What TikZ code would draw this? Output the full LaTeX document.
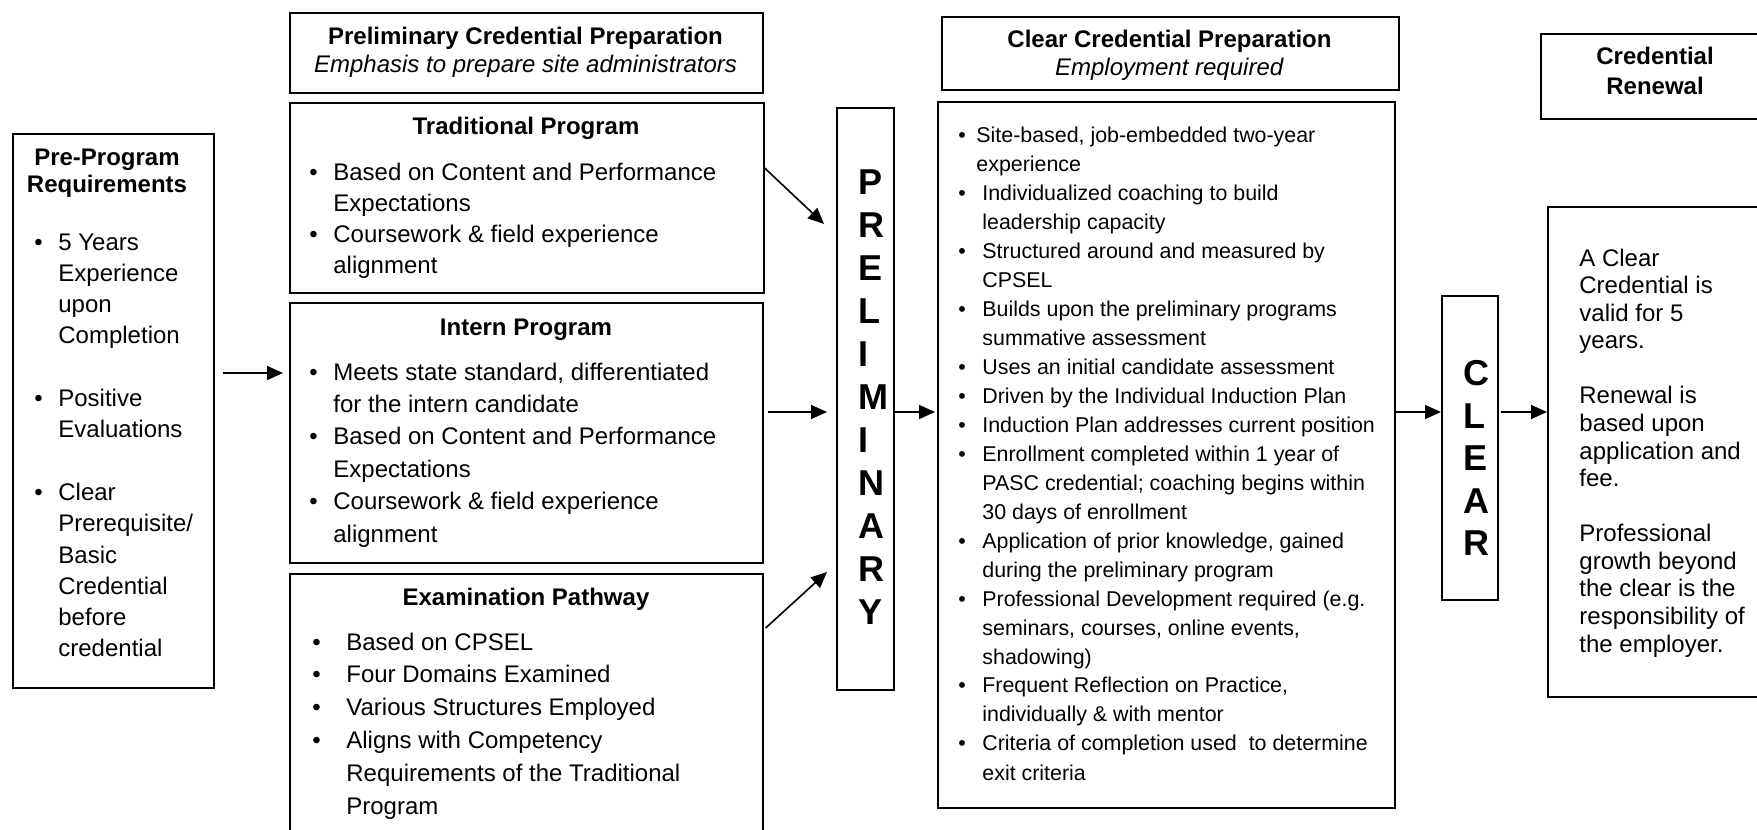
\documentclass[tikz,border=0pt]{standalone}
\usepackage{fontspec}
\setmainfont{Liberation Sans}
\usetikzlibrary{calc, positioning, arrows.meta}

\newcommand{\lst}[1]{\begin{tabular}[t]{@{}l@{}}#1\end{tabular}}
\newcommand{\ctr}[1]{\begin{tabular}[t]{@{}c@{}}#1\end{tabular}}
\newcommand{\bul}[1][12pt]{\makebox[#1][l]{\textbullet}}
\newcommand{\ind}[1][12pt]{\hspace*{#1}}

\tikzset{
	box/.style={draw, line width=0.8pt, inner sep=0pt, anchor=north west},
	body/.style={inner sep=0pt, anchor=base west},
	head/.style={inner sep=0pt, anchor=base, font=\fontsize{12}{14}\selectfont},
	letters/.style={inner sep=0pt, anchor=base west},
	arr/.style={-{Triangle[length=8pt,width=7pt]}, line width=0.8pt},
}

\begin{document}
\begin{tikzpicture}[x=0.5pt, y=-0.5pt]
	\useasboundingbox (0,0) rectangle (1757,830);
	\clip (0,0) rectangle (1757,830);
	
	% boxes
	\node[box, minimum width=100.5pt, minimum height=277pt] (pre) at (12,133) {};
	\node[box, minimum width=236.5pt, minimum height=40pt] (prelimhead) at (289,12) {};
	\node[box, minimum width=237pt, minimum height=95pt] (trad) at (289,102) {};
	\node[box, minimum width=236.5pt, minimum height=130pt] (intern) at (289,302) {};
	\node[box, minimum width=236.5pt, minimum height=140pt] (exam) at (289,573) {};
	\node[box, minimum width=28.5pt, minimum height=291pt] (prelim) at (836,107) {};
	\node[box, minimum width=228.5pt, minimum height=36.5pt] (clearhead) at (941,16) {};
	\node[box, minimum width=228.5pt, minimum height=353pt] (clear) at (937,101) {};
	\node[box, minimum width=28pt, minimum height=152pt] (clr) at (1441,295) {};
	\node[box, minimum width=115pt, minimum height=42.5pt] (renewhead) at (1540,33) {};
	\node[box, minimum width=115pt, minimum height=245pt] (renew) at (1547,206) {};
	
	% texts
	\node[head, font=\bfseries\fontsize{12}{13.5}\selectfont] (pretitle) at (107,165) {\ctr{Pre-Program\\ Requirements}};
	\node[body, font=\fontsize{12}{15.65}\selectfont] (prebody) at (34,250) {\lst{\bul 5 Years\\ \ind Experience\\ \ind upon\\ \ind Completion\\ \\ \bul Positive\\ \ind Evaluations\\ \\ \bul Clear\\ \ind Prerequisite/\\ \ind Basic\\ \ind Credential\\ \ind before\\ \ind credential}};
	
	\node[head] (prelimheadtxt) at (525.5,44) {\ctr{\textbf{Preliminary Credential Preparation}\\ \textit{Emphasis to prepare site administrators}}};
	
	\node[head, font=\bfseries\fontsize{12}{14}\selectfont] (tradtitle) at (526,134) {Traditional Program};
	\node[body, font=\fontsize{12}{15.5}\selectfont] (tradbody) at (309,180) {\lst{\bul Based on Content and Performance\\ \ind Expectations\\ \bul Coursework \& field experience\\ \ind alignment}};
	
	\node[head, font=\bfseries\fontsize{12}{14}\selectfont] (interntitle) at (526,335) {Intern Program};
	\node[body, font=\fontsize{12}{16.2}\selectfont] (internbody) at (309,380) {\lst{\bul Meets state standard, differentiated\\ \ind for the intern candidate\\ \bul Based on Content and Performance\\ \ind Expectations\\ \bul Coursework \& field experience\\ \ind alignment}};
	
	\node[head, font=\bfseries\fontsize{12}{14}\selectfont] (examtitle) at (526,605) {Examination Pathway};
	\node[body, font=\fontsize{12}{16.4}\selectfont] (exambody) at (312,650) {\lst{\bul[17pt]Based on CPSEL\\ \bul[17pt]Four Domains Examined\\ \bul[17pt]Various Structures Employed\\ \bul[17pt]Aligns with Competency\\ \ind[17pt]Requirements of the Traditional\\ \ind[17pt]Program}};
	
	\node[letters, font=\bfseries\fontsize{18}{21.5}\selectfont] (prelimtxt) at (858,194.5) {\lst{P\\ R\\ E\\ L\\ I\\ M\\ I\\ N\\ A\\ R\\ Y}};
	
	\node[head] (clearheadtxt) at (1169.5,47) {\ctr{\textbf{Clear Credential Preparation}\\ \textit{Employment required}}};
	\node[body, font=\fontsize{10.7}{14.5}\selectfont] (clearbody) at (958,142) {\lst{\bul[9pt]Site-based, job-embedded two-year\\ \ind[9pt]experience\\ \bul Individualized coaching to build\\ \ind leadership capacity\\ \bul Structured around and measured by\\ \ind CPSEL\\ \bul Builds upon the preliminary programs\\ \ind summative assessment\\ \bul Uses an initial candidate assessment\\ \bul Driven by the Individual Induction Plan\\ \bul Induction Plan addresses current position\\ \bul Enrollment completed within 1 year of\\ \ind PASC credential; coaching begins within\\ \ind 30 days of enrollment\\ \bul Application of prior knowledge, gained\\ \ind during the preliminary program\\ \bul Professional Development required (e.g.\\ \ind seminars, courses, online events,\\ \ind shadowing)\\ \bul Frequent Reflection on Practice,\\ \ind individually \& with mentor\\ \bul Criteria of completion used\ \ to determine\\ \ind exit criteria}};
	
	\node[letters, font=\bfseries\fontsize{18}{21.25}\selectfont] (clrtxt) at (1463,385.5) {\lst{C\\ L\\ E\\ A\\ R}};
	
	\node[head, font=\bfseries\fontsize{12}{15}\selectfont] (renewheadtxt) at (1655,64) {\ctr{Credential\\ Renewal}};
	\node[body, font=\fontsize{12}{13.79}\selectfont] (renewbody) at (1579,266) {\lst{A Clear\\ Credential is\\ valid for 5\\ years.\\ \\ Renewal is\\ based upon\\ application and\\ fee.\\ \\ Professional\\ growth beyond\\ the clear is the\\ responsibility of\\ the employer.}};
	
	% connectors
	\coordinate (mid) at (0,412);
	\coordinate (tradtip) at (824,224);
	\coordinate (examtip) at (827,572);
	\draw[arr, shorten <=4pt, shorten >=3pt] (pre.east |- 0,373) -- (intern.west |- 0,373);
	\draw[arr] (trad.east |- 0,168) -- (tradtip);
	\draw[arr, shorten <=2pt, shorten >=4.5pt] (intern.east |- mid) -- (prelim.west |- mid);
	\draw[arr] ($(exam.east |- 0,628)+(2,0)$) -- (examtip);
	\draw[arr, shorten >=1pt] (prelim.east |- mid) -- (clear.west |- mid);
	\draw[arr] (clear.east |- mid) -- (clr.west |- mid);
	\draw[arr, shorten <=1pt] (clr.east |- mid) -- (renew.west |- mid);
\end{tikzpicture}
\end{document}
